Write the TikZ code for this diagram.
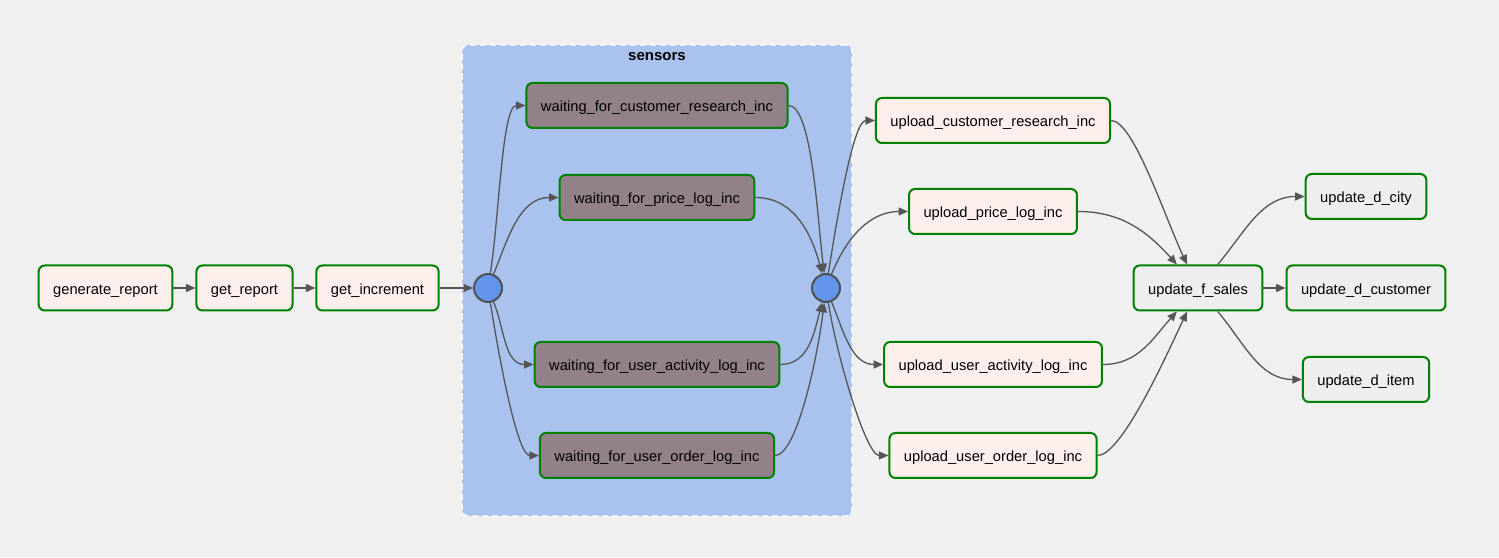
\documentclass[tikz,border=0pt]{standalone}
\usepackage{fontspec}
\setmainfont{Liberation Sans}
\usetikzlibrary{positioning,fit,backgrounds,arrows.meta}

\definecolor{canvas}{HTML}{F0F0F0}
\definecolor{clusterfill}{HTML}{A9C3EE}
\definecolor{taskfill}{HTML}{FDF0EC}
\definecolor{sensorfill}{HTML}{928189}
\definecolor{dimfill}{HTML}{EEEEEE}
\definecolor{taskgreen}{HTML}{008000}
\definecolor{junctionfill}{HTML}{6495ED}
\definecolor{junctionborder}{HTML}{4F4F4F}
\definecolor{edgegray}{HTML}{555555}

\begin{document}
\begin{tikzpicture}[
    x=1pt, y=1pt,
    task/.style={rectangle, rounded corners=6pt, draw=taskgreen, line width=2pt, fill=taskfill,
        minimum height=45pt, inner xsep=14.5pt, text depth=3pt, text height=16pt,
        font=\fontsize{14.7}{17}\selectfont},
    sensor/.style={task, fill=sensorfill},
    dimtask/.style={task, fill=dimfill},
    junction/.style={circle, draw=junctionborder, line width=2pt, fill=junctionfill, minimum size=28pt, inner sep=0pt},
    cluster/.style={rectangle, rounded corners=6pt, draw=white, line width=1.5pt, dash pattern=on 6pt off 4pt,
        fill=clusterfill, inner xsep=11pt, inner ysep=37pt},
    arrow/.style={-{Triangle[length=9.5pt,width=8pt]}, line width=1.3pt, draw=edgegray},
    steep out/.style={out looseness=0.85, in looseness=0.35},
    steep in/.style={out looseness=0.35, in looseness=0.85},
]

\useasboundingbox (0,0) rectangle (1499,557);

% Main chain
\node[task] (gen) at (105.5,269) {generate\_report};
\node[task] (getrep) at (244.5,269) {get\_report};
\node[task] (getinc) at (377.5,269) {get\_increment};

% Sensor group
\node[junction] (c1) at (488,269) {};
\node[sensor] (wcr) at (657,451.5) {waiting\_for\_customer\_research\_inc};
\node[sensor] (wpl) at (657,359.5) {waiting\_for\_price\_log\_inc};
\node[sensor] (wua) at (657,192.5) {waiting\_for\_user\_activity\_log\_inc};
\node[sensor] (wuo) at (657,101.5) {waiting\_for\_user\_order\_log\_inc};
\node[junction] (c2) at (826,269) {};

% Uploads
\node[task] (ucr) at (993,436.5) {upload\_customer\_research\_inc};
\node[task] (upl) at (993,345.5) {upload\_price\_log\_inc};
\node[task] (uua) at (993,192.5) {upload\_user\_activity\_log\_inc};
\node[task] (uuo) at (993,101.5) {upload\_user\_order\_log\_inc};

% Facts and dimensions
\node[dimtask] (fsales) at (1198,269) {update\_f\_sales};
\node[dimtask] (dcity) at (1366,360.5) {update\_d\_city};
\node[dimtask] (dcust) at (1366,269) {update\_d\_customer};
\node[dimtask] (ditem) at (1366,177.5) {update\_d\_item};

% Background and cluster box
\begin{scope}[on background layer]
\fill[canvas] (0,0) rectangle (1499,557);
\node[cluster, fit=(c1)(c2)(wcr)(wuo)] (sensors) {};
\end{scope}
\node[font=\bfseries\fontsize{15}{17}\selectfont, below=5pt of sensors.north] (sensorstitle) {sensors};

% Arrows
\draw[arrow] (gen) -- (getrep);
\draw[arrow] (getrep) -- (getinc);
\draw[arrow] (getinc) -- (c1);

\draw[arrow] (c1) to[out=81,in=180,steep out] (wcr);
\draw[arrow] (c1) to[out=68,in=180] (wpl);
\draw[arrow] (c1) to[out=-68,in=180] (wua);
\draw[arrow] (c1) to[out=-81,in=180,steep out] (wuo);

\draw[arrow] (wcr) to[out=0,in=97,steep in] (c2);
\draw[arrow] (wpl) to[out=0,in=105] (c2);
\draw[arrow] (wua) to[out=0,in=-105] (c2);
\draw[arrow] (wuo) to[out=0,in=-97,steep in] (c2);

\draw[arrow] (c2) to[out=81,in=180,steep out] (ucr);
\draw[arrow] (c2) to[out=68,in=180] (upl);
\draw[arrow] (c2) to[out=-68,in=180] (uua);
\draw[arrow] (c2) to[out=-81,in=180,steep out] (uuo);

\draw[arrow] (ucr) to[out=0,in=115,steep in] (fsales);
\draw[arrow] (upl) to[out=0,in=132] (fsales);
\draw[arrow] (uua) to[out=0,in=-132] (fsales);
\draw[arrow] (uuo) to[out=0,in=-115,steep in] (fsales);

\draw[arrow] (fsales) to[out=50,in=180] (dcity);
\draw[arrow] (fsales) -- (dcust);
\draw[arrow] (fsales) to[out=-50,in=180] (ditem);

\end{tikzpicture}
\end{document}
